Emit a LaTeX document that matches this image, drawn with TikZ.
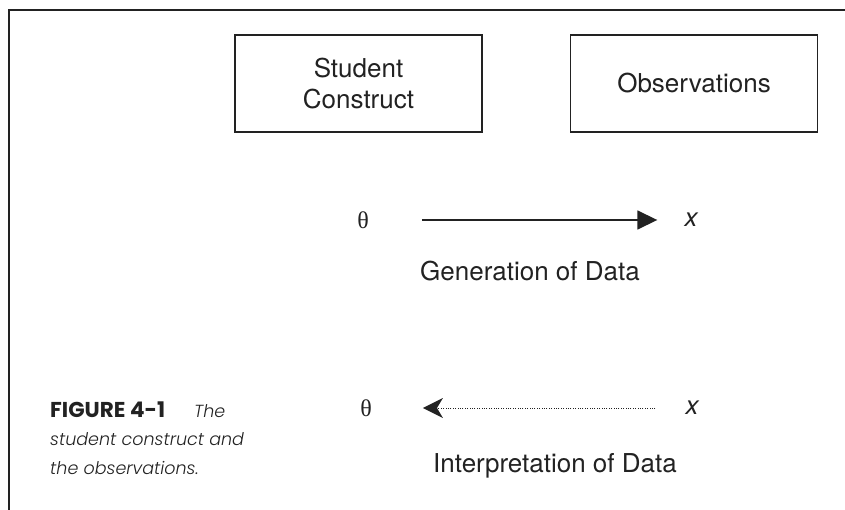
\documentclass[tikz,border=0pt]{standalone}
\usepackage{fontspec}
\setmainfont{TeX Gyre Heros}
\newfontfamily\thetafont{Liberation Serif}
\newfontfamily\capfont{Poppins}[ItalicFont={Poppins Light Italic}]
\usepackage{xcolor}
\definecolor{ink}{RGB}{34,34,34}
\usetikzlibrary{arrows.meta}
\tikzset{
    construct/.style={draw=ink, line width=1.5pt, minimum width=247pt, minimum height=97pt,
        align=center, font=\fontsize{26}{31}\selectfont, text=ink},
    symbol/.style={font=\thetafont\fontsize{24}{28}\selectfont, text=ink, inner sep=0pt},
    var/.style={font=\fontsize{26}{30}\selectfont\itshape, text=ink, inner sep=0pt},
    label/.style={font=\fontsize{26}{30}\selectfont, text=ink, inner sep=0pt, anchor=base},
    generate/.style={draw=ink, line width=1.6pt, -{Triangle[length=20pt, width=19pt]}},
    interpret/.style={draw=ink, line width=0.9pt, dash pattern=on 0.9pt off 1.5pt,
        -{Stealth[length=20pt, width=20pt, inset=6pt, line width=0pt]}}
}

\begin{document}
\begin{tikzpicture}[x=1pt, y=-1pt]
    \useasboundingbox (0,0) rectangle (845,510);
    % frame
    \draw[ink, line width=1.3pt] (9,510) -- (9,10) -- (845,10);

    \node[construct] (student) at (358.5,83.5) {Student\\Construct};
    \node[construct] (obs) at (694,83.5) {Observations};

    % generation
    \node[symbol] (theta1) at (363,220) {θ};
    \node[var] (x1) at (691,220) {x};
    \draw[generate, shorten <=53pt, shorten >=27pt] (theta1) -- (x1);
    \node[label] (gen) at (530,280) {Generation of Data};

    % interpretation
    \node[symbol] (theta2) at (366,408) {θ};
    \node[var] (x2) at (692,408) {x};
    \draw[interpret, shorten <=30pt, shorten >=51pt] (x2) -- (theta2);
    \node[label] (interp) at (555,472) {Interpretation of Data};

    % caption (base = last line)
    \node[font=\capfont\fontsize{17.5}{28.5}\selectfont\itshape, text=ink, align=left,
        anchor=base west, inner sep=0pt] (caption) at (50,474)
        {{\upshape\bfseries\fontsize{21.5}{28.5}\selectfont FIGURE 4-1}\hspace{29pt}The\\student construct and\\the observations.};
\end{tikzpicture}
\end{document}
